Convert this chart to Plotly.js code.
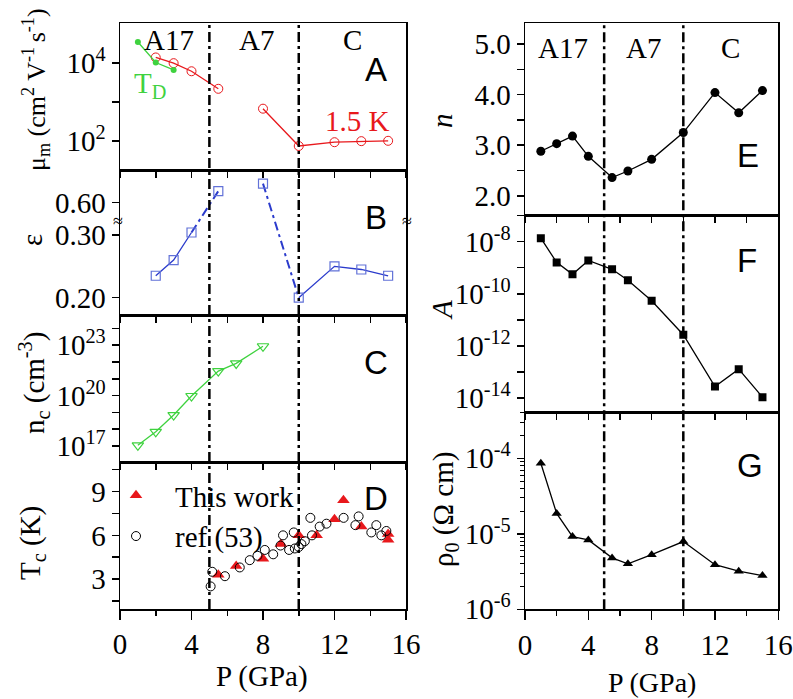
<!DOCTYPE html>
<html>
<head>
<meta charset="utf-8">
<script src="https://cdn.plot.ly/plotly-3.0.1.min.js"></script>
<style>
  html, body { margin: 0; padding: 0; background: #fff; }
  #chart { width: 793px; height: 699px; }
</style>
</head>
<body>
<div id="chart"></div>
<script>
// ---------------- DATA ----------------
// Panel A: mobility at 1.5 K (red) and from Dingle temperature T_D (green)
const P_mob = [2, 3, 4, 5.5, 8, 10, 12, 13.5, 15];
const mob15K = [14000, 10000, 6200, 2200, 680, 75, 94, 100, 102];
const P_TD = [1, 2, 3];
const mobTD = [35000, 10400, 6700];
// Panel B: epsilon (axis break between 0.30 and 0.60)
const P_eps = [2, 3, 4, 5.5, 8, 10, 12, 13.5, 15];
const eps = [0.235, 0.26, 0.304, 0.66, 0.70, 0.20, 0.25, 0.245, 0.235];
// Panel C: n_c
const P_nc = [1, 2, 3, 4, 5.5, 6.5, 8];
const nc = [1.1e17, 7e17, 7e18, 9.5e19, 2.9e21, 8.3e21, 8.7e22];
// Panel D: Tc
const P_tw = [5.5, 6.5, 8, 9, 10, 11, 12, 12.5, 13.5, 15, 15];
const Tc_tw = [3.3, 3.9, 4.4, 5.4, 6.0, 6.0, 7.1, 8.4, 6.6, 6.1, 5.7];
const P_ref = [5.07, 5.16, 5.87, 6.7, 7.26, 7.69, 8.1, 8.57, 8.98, 9.12, 9.46, 9.72, 9.78, 10.0, 10.15, 10.34, 10.65, 10.74, 11.17, 11.55, 12.51, 13.17, 13.35, 14.06, 14.34, 14.62, 14.9];
const Tc_ref = [2.5, 3.5, 3.2, 3.8, 4.3, 4.6, 5.0, 4.7, 5.3, 6.0, 5.0, 6.2, 5.1, 5.2, 5.4, 5.6, 7.2, 6.0, 6.6, 6.8, 7.2, 6.7, 7.3, 6.2, 6.7, 6.0, 6.3];
// Panels E, F, G
const P_fit = [1, 2, 3, 4, 5.5, 6.5, 8, 10, 12, 13.5, 15];
const n_exp = [2.88, 3.03, 3.18, 2.78, 2.36, 2.49, 2.72, 3.25, 4.04, 3.64, 4.08];
const A_coef = [1.35e-8, 1.6e-9, 5.6e-10, 1.9e-9, 8.7e-10, 3.3e-10, 5.4e-11, 2.7e-12, 2.8e-14, 1.3e-13, 1.1e-14];
const rho0 = [8.6e-5, 1.86e-5, 9.2e-6, 8.3e-6, 4.8e-6, 4.0e-6, 5.3e-6, 7.9e-6, 3.9e-6, 3.2e-6, 2.8e-6];
// phase boundaries and labels
const boundaries = [5, 10];
const phaseLabels = ['A17', 'A7', 'C'];
const xTickVals = [0, 4, 8, 12, 16];

// ---------------- HELPERS ----------------
const W = 793, H = 699;
const px = x => x / W;
const py = y => 1 - y / H;
const SERIF = '"Liberation Serif", "Times New Roman", Times, serif';
const SANS = '"Liberation Sans", Arial, sans-serif';
const FS = 29;

// axis break for epsilon
const epsBreak = e => (e <= 0.45 ? e : 0.352 + (e - 0.6) * 0.3);
function seg(xs, ys, i0, i1) { return { x: xs.slice(i0, i1 + 1), y: ys.slice(i0, i1 + 1) }; }
function gap(xs, ys, after) {
  return { x: [...xs.slice(0, after + 1), null, ...xs.slice(after + 1)],
           y: [...ys.slice(0, after + 1), null, ...ys.slice(after + 1)] };
}
const sup = (b, e) => b + '<sup>' + e + '</sup>';

const RED = '#e8181c', GREEN = '#3fd23f', BLUE = '#2b3bcc', BLUE_M = '#6272d8';

const traces = [];
// A
const mg = gap(P_mob, mob15K, 3);
traces.push({ x: mg.x, y: mg.y, xaxis: 'x', yaxis: 'y', mode: 'lines+markers', connectgaps: false,
  line: { color: RED, width: 1.3 }, marker: { symbol: 'circle-open', size: 9, color: RED, line: { width: 1 } }, showlegend: false });
traces.push({ x: P_TD, y: mobTD, xaxis: 'x', yaxis: 'y', mode: 'lines+markers',
  line: { color: GREEN, width: 1.3 }, marker: { symbol: 'circle', size: 6, color: GREEN }, showlegend: false });
// B
const epsC = eps.map(epsBreak);
[seg(P_eps, epsC, 0, 2), seg(P_eps, epsC, 5, 8)].forEach(s => traces.push({ x: s.x, y: s.y, xaxis: 'x2', yaxis: 'y2', mode: 'lines',
  line: { color: BLUE, width: 1.3 }, showlegend: false }));
[seg(P_eps, epsC, 2, 3), seg(P_eps, epsC, 4, 5)].forEach(s => traces.push({ x: s.x, y: s.y, xaxis: 'x2', yaxis: 'y2', mode: 'lines',
  line: { color: BLUE, width: 2, dash: '9px,4px,3px,4px' }, showlegend: false }));
traces.push({ x: P_eps, y: epsC, xaxis: 'x2', yaxis: 'y2', mode: 'markers',
  marker: { symbol: 'square-open', size: 9, color: BLUE_M, line: { width: 1.2 } }, showlegend: false });
// C
traces.push({ x: P_nc, y: nc, xaxis: 'x3', yaxis: 'y3', mode: 'lines+markers',
  line: { color: GREEN, width: 1.3 }, marker: { symbol: 'triangle-down-open', size: 10, color: GREEN, line: { width: 1.2 } }, showlegend: false });
// D
traces.push({ x: P_tw, y: Tc_tw, xaxis: 'x4', yaxis: 'y4', mode: 'markers', name: 'This work',
  marker: { symbol: 'triangle-up', size: 11, color: RED }, showlegend: true });
traces.push({ x: P_ref, y: Tc_ref, xaxis: 'x4', yaxis: 'y4', mode: 'markers', name: 'ref (53)',
  marker: { symbol: 'circle-open', size: 9, color: '#000', line: { width: 1 } }, showlegend: true });
// E F G
traces.push({ x: P_fit, y: n_exp, xaxis: 'x5', yaxis: 'y5', mode: 'lines+markers',
  line: { color: '#000', width: 1.3 }, marker: { symbol: 'circle', size: 9, color: '#000' }, showlegend: false });
traces.push({ x: P_fit, y: A_coef, xaxis: 'x6', yaxis: 'y6', mode: 'lines+markers',
  line: { color: '#000', width: 1.3 }, marker: { symbol: 'square', size: 8, color: '#000' }, showlegend: false });
traces.push({ x: P_fit, y: rho0, xaxis: 'x7', yaxis: 'y7', mode: 'lines+markers',
  line: { color: '#000', width: 1.3 }, marker: { symbol: 'triangle-up', size: 9, color: '#000' }, showlegend: false });

// ---------------- AXES ----------------
const LEFT = [px(120), px(406)], RIGHT = [px(525), px(778.3)];
const tf = () => ({ family: SERIF, size: FS, color: '#000' });
function xa(domain, anchor, bottom) {
  const a = { domain: domain, anchor: anchor, range: [0, 16], showline: true, mirror: true, linewidth: 1.5, linecolor: '#000',
    showgrid: false, zeroline: false, ticks: 'outside', tickcolor: '#000', tickwidth: 1.5, fixedrange: true, tickfont: tf() };
  if (bottom) {
    Object.assign(a, { tickmode: 'array', tickvals: xTickVals, ticklen: 9, showticklabels: true,
      minor: { dtick: 2, tick0: 0, ticks: 'outside', ticklen: 5, tickwidth: 1.5, tickcolor: '#000' } });
  } else {
    Object.assign(a, { dtick: 2, tick0: 0, ticklen: 6, showticklabels: false });
  }
  return a;
}
function ya(domain, anchor, extra) {
  return Object.assign({ domain: domain, anchor: anchor, showline: true, mirror: true, linewidth: 1.5, linecolor: '#000',
    showgrid: false, zeroline: false, ticks: 'outside', ticklen: 7, tickwidth: 1.5, tickcolor: '#000', fixedrange: true,
    tickfont: tf() }, extra);
}
const dA = [py(170), py(23)], dB = [py(315), py(170)], dC = [py(462), py(315)], dD = [py(609), py(462)];
const dE = [py(215), py(23.3)], dF = [py(412.3), py(215)], dG = [py(609.3), py(412.3)];

const decades = (a, b) => { const v = []; for (let e = a; e <= b; e++) v.push(Math.pow(10, e)); return v; };
const logMinor = (a, b) => { const v = []; for (let e = a; e < b; e++) for (let m = 2; m <= 9; m++) v.push(m * Math.pow(10, e)); return v; };

const layout = {
  width: W, height: H, margin: { l: 0, r: 0, t: 0, b: 0 }, paper_bgcolor: '#fff', plot_bgcolor: '#fff',
  font: { family: SERIF, size: FS, color: '#000' },
  xaxis: xa(LEFT, 'y', false), xaxis2: xa(LEFT, 'y2', false), xaxis3: xa(LEFT, 'y3', false), xaxis4: xa(LEFT, 'y4', true),
  xaxis5: xa(RIGHT, 'y5', false), xaxis6: xa(RIGHT, 'y6', false), xaxis7: xa(RIGHT, 'y7', true),
  yaxis: ya(dA, 'x', { type: 'log', range: [1.26, 5.03], tickmode: 'array', tickvals: [100, 1000, 10000],
    ticktext: [sup('10', '2'), '', sup('10', '4')] }),
  yaxis2: ya(dB, 'x2', { range: [0.1724, 0.4037], tickmode: 'array', tickvals: [0.2, 0.3, 0.6].map(epsBreak),
    ticktext: ['0.20', '0.30', '0.60'] }),
  yaxis3: ya(dC, 'x3', { type: 'log', range: [16.05, 24.8], tickmode: 'array', tickvals: decades(17, 24),
    ticktext: decades(17, 24).map((v, i) => ((17 + i) % 3 === 2 ? sup('10', String(17 + i)) : '')) }),
  yaxis4: ya(dD, 'x4', { range: [0.95, 11.03], tickmode: 'array', tickvals: [1.5, 3, 4.5, 6, 7.5, 9, 10.5],
    ticktext: ['', '3', '', '6', '', '9', ''] }),
  yaxis5: ya(dE, 'x5', { range: [1.62, 5.41], tickmode: 'array', tickvals: [2, 2.5, 3, 3.5, 4, 4.5, 5],
    ticktext: ['2.0', '', '3.0', '', '4.0', '', '5.0'] }),
  yaxis6: ya(dF, 'x6', { type: 'log', range: [-14.54, -6.98], tickmode: 'array', tickvals: decades(-14, -7),
    ticktext: decades(-14, -7).map((v, i) => ((-14 + i) % 2 === 0 ? sup('10', String(-14 + i)) : '')) }),
  yaxis7: ya(dG, 'x7', { type: 'log', range: [-6, -3.39], tickmode: 'array', tickvals: [1e-6, 1e-5, 1e-4],
    ticktext: [sup('10', '-6'), sup('10', '-5'), sup('10', '-4')],
    minor: { tickmode: 'array', tickvals: logMinor(-6, -3), ticks: 'outside', ticklen: 4, tickwidth: 1, tickcolor: '#000' } }),
  showlegend: true,
  legend: { x: px(97), y: py(470), xanchor: 'left', yanchor: 'top', bgcolor: 'rgba(0,0,0,0)',
    font: { family: SERIF, size: FS, color: '#000' }, itemsizing: 'trace', itemwidth: 68, tracegroupgap: 0 },
  shapes: [], annotations: []
};

// phase boundaries
const dashBoundary = { color: '#000', width: 2.5, dash: '10px,4px,3px,4px' };
boundaries.forEach(b => {
  layout.shapes.push({ type: 'line', xref: 'x', yref: 'paper', x0: b, x1: b, y0: dD[0], y1: dA[1], line: dashBoundary, layer: 'above' });
  layout.shapes.push({ type: 'line', xref: 'x5', yref: 'paper', x0: b, x1: b, y0: dG[0], y1: dE[1], line: dashBoundary, layer: 'above' });
});

function ann(text, x, y, opts) {
  layout.annotations.push(Object.assign({ text: text, xref: 'paper', yref: 'paper', x: px(x), y: py(y),
    xanchor: 'center', yanchor: 'middle', showarrow: false, font: { family: SERIF, size: FS, color: '#000' } }, opts || {}));
}
// phase labels
[[169, 40], [256, 40], [352, 40]].forEach((p, i) => ann(phaseLabels[i], p[0], p[1]));
[[563, 48], [643, 48], [730, 48]].forEach((p, i) => ann(phaseLabels[i], p[0], p[1]));
// panel letters
const bigSans = { family: SANS, size: 33, color: '#000' };
[['A', 376, 70], ['B', 376, 218], ['C', 376, 362], ['D', 376, 498], ['E', 748, 155], ['F', 747, 260], ['G', 750, 465]]
  .forEach(l => ann(l[0], l[1], l[2], { font: bigSans }));
// in-plot labels
ann('T<sub>D</sub>', 150, 85, { font: { family: SERIF, size: FS, color: GREEN } });
ann('1.5 K', 357, 121, { font: { family: SERIF, size: FS, color: RED } });
// axis break marks
ann('≈', 118, 221, { font: { family: SERIF, size: 18, color: '#000' } });
ann('≈', 407, 221, { font: { family: SERIF, size: 18, color: '#000' } });
// y axis titles
ann('μ<sub>m</sub> (cm<sup>2</sup> V<sup>-1 </sup>s<sup>-1</sup>)', 36, 90, { textangle: -90, font: { family: SERIF, size: 26, color: '#000' } });
ann('ε', 32, 240, { textangle: -90 });
ann('n<sub>c</sub> (cm<sup>-3</sup>)', 34, 383, { textangle: -90 });
ann('T<sub>c</sub> (K)', 32, 543, { textangle: -90 });
ann('<i>n</i>', 442, 120, { textangle: -90 });
ann('<i>A</i>', 442, 310, { textangle: -90 });
ann('ρ<sub>0</sub> (Ω cm)', 445, 509, { textangle: -90 });
// x axis titles
ann('P (GPa)', 262, 676);
ann('P (GPa)', 652, 682, { font: { family: SERIF, size: 28, color: '#000' } });

Plotly.newPlot('chart', traces, layout, { staticPlot: true, displayModeBar: false });
</script>
</body>
</html>
